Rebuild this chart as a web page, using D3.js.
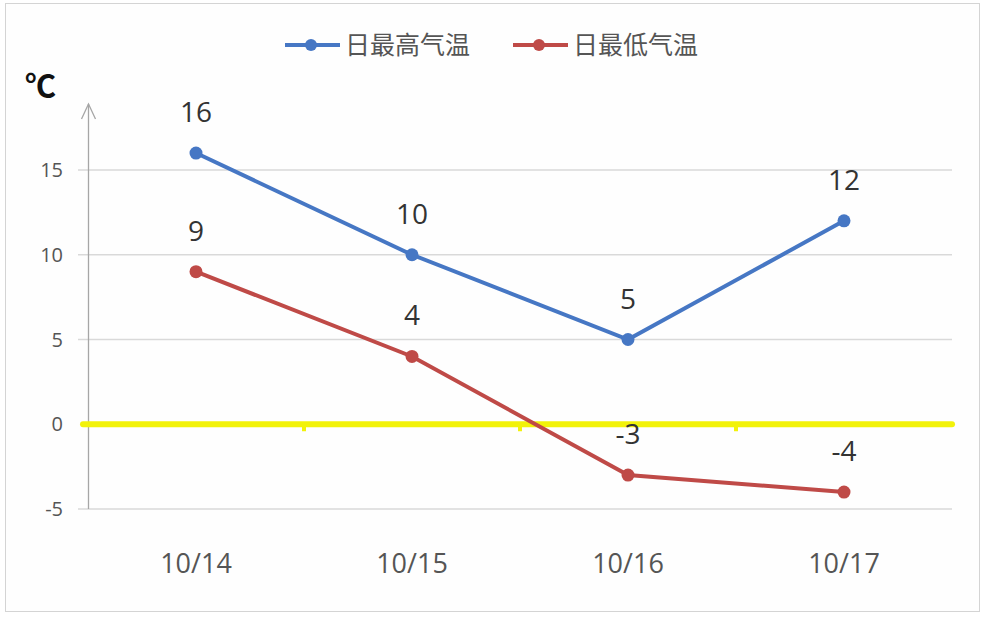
<!DOCTYPE html>
<meta charset="utf-8">
<style>
body { margin: 0; background: #fff; }
svg { font-family: "Open Sans", "Noto Sans CJK SC", sans-serif; }
</style>
<svg width="985" height="617"></svg>
<script src="https://cdn.jsdelivr.net/npm/d3@7"></script>
<script>

var dates = ["10/14", "10/15", "10/16", "10/17"];
var highTemps = [16, 10, 5, 12];
var lowTemps = [9, 4, -3, -4];
var seriesNames = ["日最高气温", "日最低气温"];
var seriesColors = ["#4677c4", "#bf4a47"];
var yTicks = [-5, 0, 5, 10, 15];

var svg = d3.select("svg");

// frame round the chart
svg.append("rect")
    .attr("x", 5.5).attr("y", 3.5)
    .attr("width", 974).attr("height", 608)
    .attr("fill", "#fefefe")
    .attr("stroke", "#d4d4d4");

var x = d3.scaleBand()
    .domain(dates)
    .range([88, 952]);

var y = d3.scaleLinear()
    .domain([-5, 15])
    .range([509, 170]);

// gridlines (zero line drawn later in yellow)
svg.append("g").selectAll("line")
    .data(yTicks.filter(function(d) { return d !== 0; }))
  .enter().append("line")
    .attr("x1", 78).attr("x2", 952)
    .attr("y1", function(d) { return y(d); })
    .attr("y2", function(d) { return y(d); })
    .attr("stroke", "#d9d9d9")
    .attr("stroke-width", 1.5);

// y tick labels
svg.append("g").selectAll("text")
    .data(yTicks)
  .enter().append("text")
    .attr("x", 63)
    .attr("y", function(d) { return y(d); })
    .attr("dy", "0.35em")
    .attr("text-anchor", "end")
    .attr("font-size", 20)
    .attr("fill", "#555")
    .text(function(d) { return d; });

// y axis with arrow
var ax = 88.5;
svg.append("line")
    .attr("x1", ax).attr("x2", ax)
    .attr("y1", y(-5)).attr("y2", 104)
    .attr("stroke", "#a6a6a6").attr("stroke-width", 1.3);
svg.append("path")
    .attr("d", "M" + (ax - 7) + ",119L" + ax + ",104L" + (ax + 7) + ",119")
    .attr("fill", "none")
    .attr("stroke", "#a6a6a6").attr("stroke-width", 1.3);

svg.append("text")
    .attr("x", 25).attr("y", 97)
    .attr("font-size", 31)
    .attr("font-weight", "bold")
    .attr("fill", "#111")
    .attr("font-family", "Noto Sans CJK SC")
    .text("℃");

// yellow zero line
svg.append("line")
    .attr("x1", 83).attr("x2", 952)
    .attr("y1", y(0)).attr("y2", y(0))
    .attr("stroke", "#f2f20a")
    .attr("stroke-width", 6)
    .attr("stroke-linecap", "round");
svg.append("g").selectAll("line")
    .data(dates.slice(1))
  .enter().append("line")
    .attr("x1", function(d) { return x(d); })
    .attr("x2", function(d) { return x(d); })
    .attr("y1", y(0)).attr("y2", y(0) + 7)
    .attr("stroke", "#f2f20a")
    .attr("stroke-width", 4);

// x labels
svg.append("g").selectAll("text")
    .data(dates)
  .enter().append("text")
    .attr("x", function(d) { return x(d) + x.bandwidth() / 2; })
    .attr("y", 573)
    .attr("text-anchor", "middle")
    .attr("font-size", 27)
    .attr("fill", "#555")
    .text(function(d) { return d; });

var line = d3.line()
    .x(function(d, i) { return x(dates[i]) + x.bandwidth() / 2; })
    .y(function(d) { return y(d); });

[highTemps, lowTemps].forEach(function(values, s) {
  var g = svg.append("g");
  g.append("path")
      .datum(values)
      .attr("d", line)
      .attr("fill", "none")
      .attr("stroke", seriesColors[s])
      .attr("stroke-width", 4);
  g.selectAll("circle")
      .data(values)
    .enter().append("circle")
      .attr("cx", function(d, i) { return x(dates[i]) + x.bandwidth() / 2; })
      .attr("cy", function(d) { return y(d); })
      .attr("r", 6.5)
      .attr("fill", seriesColors[s]);
  g.selectAll("text")
      .data(values)
    .enter().append("text")
      .attr("x", function(d, i) { return x(dates[i]) + x.bandwidth() / 2; })
      .attr("y", function(d) { return y(d) - 31; })
      .attr("text-anchor", "middle")
      .attr("font-size", 28)
      .attr("fill", "#333")
      .text(function(d) { return d; });
});

// legend
var legend = svg.append("g").selectAll("g")
    .data(seriesNames)
  .enter().append("g")
    .attr("transform", function(d, i) { return "translate(" + (285 + i * 228) + ",45)"; });
legend.append("line")
    .attr("x1", 0).attr("x2", 55)
    .attr("stroke", function(d, i) { return seriesColors[i]; })
    .attr("stroke-width", 4);
legend.append("circle")
    .attr("cx", 26).attr("r", 6)
    .attr("fill", function(d, i) { return seriesColors[i]; });
legend.append("text")
    .attr("x", 60)
    .attr("dy", "0.36em")
    .attr("font-size", 25)
    .attr("font-family", "Noto Sans CJK SC")
    .attr("fill", "#555")
    .text(function(d) { return d; });

</script>
